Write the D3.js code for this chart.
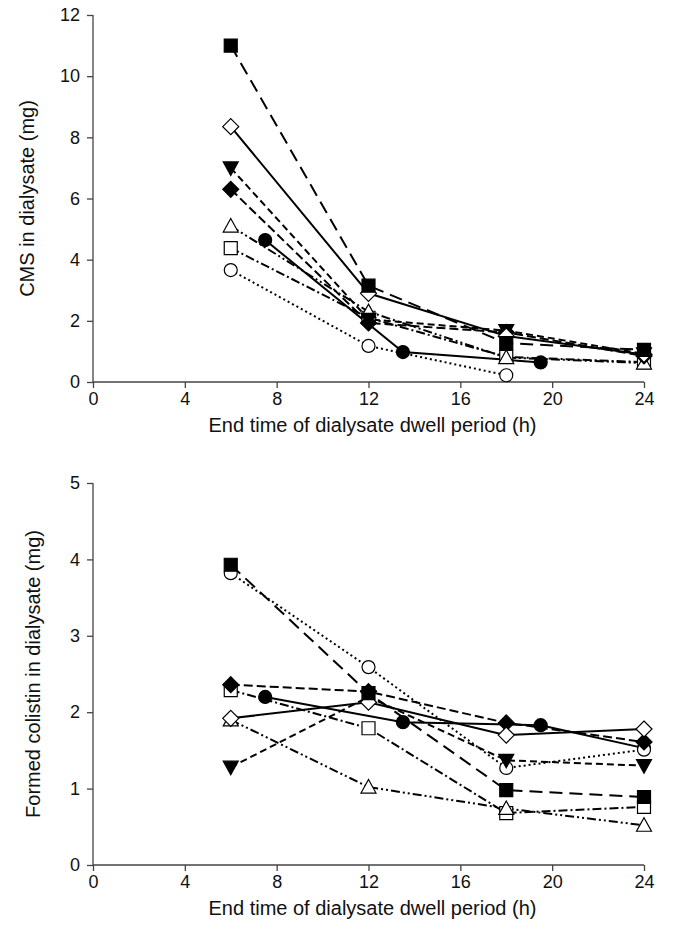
<!DOCTYPE html>
<html>
<head>
<meta charset="utf-8">
<script src="https://cdn.jsdelivr.net/npm/d3@7"></script>
<style>
  body { margin: 0; background: #fff; }
  svg { display: block; font-family: "Liberation Sans", Arial, sans-serif; }
</style>
</head>
<body>
<div id="chart"></div>
<script>
// x tick labels shared by both panels
const xTicks = [0, 4, 8, 12, 16, 20, 24]
const cmsTicks = [0, 2, 4, 6, 8, 10, 12]
const colTicks = [0, 1, 2, 3, 4, 5]

// CMS in dialysate (mg)
const cmsFilledSquare = [[6, 11.0], [12, 3.15], [18, 1.27], [24, 1.05]]
const cmsOpenDiamond = [[6, 8.35], [12, 2.9], [18, 1.5], [24, 0.9]]
const cmsFilledTriangle = [[6, 7.0], [12, 2.05], [18, 1.68], [24, 0.92]]
const cmsFilledDiamond = [[6, 6.3], [12, 1.93], [18, 1.62], [24, 0.85]]
const cmsOpenTriangle = [[6, 5.1], [12, 2.3], [18, 0.8], [24, 0.62]]
const cmsOpenSquare = [[6, 4.38], [12, 2.1], [18, 0.82], [24, 0.65]]
const cmsOpenCircle = [[6, 3.66], [12, 1.18], [18, 0.22]]
const cmsFilledCircle = [[7.5, 4.64], [13.5, 0.98], [19.5, 0.64]]

// Formed colistin in dialysate (mg)
const colFilledSquare = [[6, 3.93], [12, 2.25], [18, 0.98], [24, 0.89]]
const colOpenDiamond = [[6, 1.92], [12, 2.13], [18, 1.7], [24, 1.78]]
const colFilledTriangle = [[6, 1.28], [12, 2.2], [18, 1.37], [24, 1.3]]
const colFilledDiamond = [[6, 2.36], [12, 2.27], [18, 1.86], [24, 1.61]]
const colOpenTriangle = [[6, 1.9], [12, 1.02], [18, 0.74], [24, 0.52]]
const colOpenSquare = [[6, 2.29], [12, 1.79], [18, 0.68], [24, 0.76]]
const colOpenCircle = [[6, 3.82], [12, 2.59], [18, 1.27], [24, 1.51]]
const colFilledCircle = [[7.5, 2.2], [13.5, 1.87], [19.5, 1.83], [24, 1.53]]

// marker type, fill, dash pattern per series (same order in both panels)
const styles = [
  { shape: 'square', filled: true, dash: '13,7' },
  { shape: 'diamond', filled: false, dash: null },
  { shape: 'triangleDown', filled: true, dash: '7,4' },
  { shape: 'diamond', filled: true, dash: '9,4' },
  { shape: 'triangle', filled: false, dash: '9,3,2,3,2,3' },
  { shape: 'square', filled: false, dash: '9,3,2,3' },
  { shape: 'circle', filled: false, dash: '2,3' },
  { shape: 'circle', filled: true, dash: null }
]

const W = 674, H = 938
const svg = d3.select('#chart').append('svg').attr('width', W).attr('height', H)

function symbolPath(shape) {
  if (shape === 'square') return 'M-6.5,-6.5H6.5V6.5H-6.5Z'
  if (shape === 'diamond') return 'M0,-8L8,0L0,8L-8,0Z'
  if (shape === 'triangle') return 'M0,-7.5L7.5,6L-7.5,6Z'
  if (shape === 'triangleDown') return 'M0,7.5L7.5,-6L-7.5,-6Z'
  return d3.arc()({ innerRadius: 0, outerRadius: 6.5, startAngle: 0, endAngle: 2 * Math.PI })
}

function drawPanel(opt) {
  const x = d3.scaleLinear().domain([0, 24]).range([93, 644])
  const y = d3.scaleLinear().domain([0, opt.yMax]).range([opt.bottom, opt.top])
  const g = svg.append('g')

  const xa = g.append('g')
    .attr('transform', 'translate(0,' + opt.bottom + ')')
    .call(d3.axisBottom(x).tickValues(xTicks).tickSize(6).tickPadding(4))
  const ya = g.append('g')
    .attr('transform', 'translate(93,0)')
    .call(d3.axisLeft(y).tickValues(opt.ticks).tickFormat(d3.format('d')).tickSize(6).tickPadding(7))
  ;[xa, ya].forEach(a => {
    a.select('.domain').attr('stroke', '#444').attr('stroke-width', 1.3)
    a.selectAll('.tick line').attr('stroke', '#444').attr('stroke-width', 1.3)
    a.selectAll('text').attr('font-size', 18).attr('fill', '#111')
      .style('font-family', '"Liberation Sans", Arial, sans-serif')
  })
  // plain axis lines without the end stubs
  xa.select('.domain').attr('d', 'M93,0H644')
  ya.select('.domain').attr('d', 'M0,' + opt.top + 'V' + opt.bottom)

  g.append('text')
    .attr('x', (93 + 644) / 2 + 4).attr('y', opt.bottom + 50)
    .attr('text-anchor', 'middle').attr('font-size', 20).attr('fill', '#111')
    .text('End time of dialysate dwell period (h)')
  g.append('text')
    .attr('transform', 'translate(' + opt.yLabelX + ',' + (opt.top + opt.bottom) / 2 + ') rotate(-90)')
    .attr('text-anchor', 'middle').attr('font-size', 20).attr('fill', '#111')
    .text(opt.yLabel)

  const line = d3.line().x(d => x(d[0])).y(d => y(d[1]))
  opt.series.forEach((s, i) => {
    g.append('path').datum(s)
      .attr('d', line)
      .attr('fill', 'none').attr('stroke', '#000').attr('stroke-width', 2)
      .attr('stroke-dasharray', styles[i].dash)
  })
  // markers, drawn in reverse so the first series sits on top
  opt.series.map((s, i) => i).reverse().forEach(i => {
    const st = styles[i]
    g.selectAll(null).data(opt.series[i]).enter().append('path')
      .attr('transform', d => 'translate(' + x(d[0]) + ',' + y(d[1]) + ')')
      .attr('d', symbolPath(st.shape))
      .attr('fill', st.filled ? '#000' : '#fff')
      .attr('stroke', '#000').attr('stroke-width', 1.2)
  })
}

drawPanel({
  top: 15, bottom: 382, yMax: 12, ticks: cmsTicks, yLabelX: 34,
  yLabel: 'CMS in dialysate (mg)',
  series: [cmsFilledSquare, cmsOpenDiamond, cmsFilledTriangle, cmsFilledDiamond,
    cmsOpenTriangle, cmsOpenSquare, cmsOpenCircle, cmsFilledCircle]
})

drawPanel({
  top: 483, bottom: 865, yMax: 5, ticks: colTicks, yLabelX: 40,
  yLabel: 'Formed colistin in dialysate (mg)',
  series: [colFilledSquare, colOpenDiamond, colFilledTriangle, colFilledDiamond,
    colOpenTriangle, colOpenSquare, colOpenCircle, colFilledCircle]
})
</script>
</body>
</html>
